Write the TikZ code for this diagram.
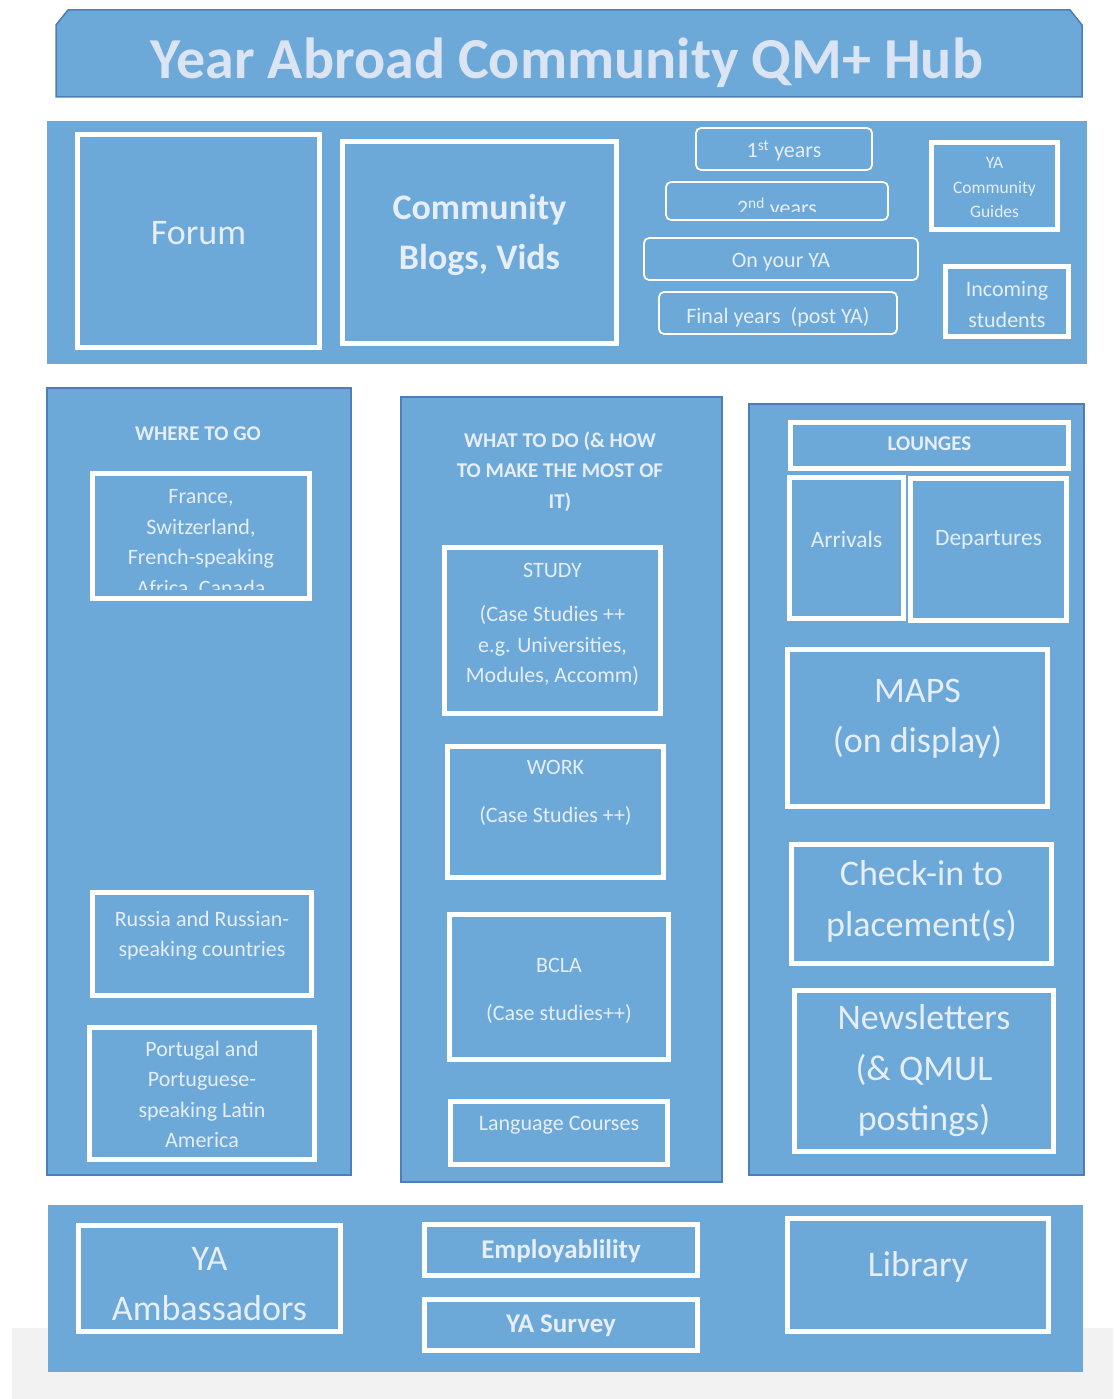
\documentclass[tikz,border=0pt]{standalone}
\usepackage{fontspec}
\setmainfont{Carlito}
\usetikzlibrary{positioning}
\definecolor{hubblue}{RGB}{108,168,216}
\definecolor{hubedge}{RGB}{76,127,186}
\definecolor{hubtext}{RGB}{230,238,249}
\definecolor{hubtitle}{RGB}{218,228,243}
\begin{document}
\begin{tikzpicture}[x=1pt,y=-1pt,
  wh/.style 2 args={minimum width=#1,minimum height=#2},
  panel/.style={fill=hubblue,draw=hubedge,line width=1.6pt,inner sep=0pt},
  flat/.style={panel,draw=none},
  wbox/.style={draw=white,line width=5pt,inner sep=0pt},
  ybox/.style={draw=white,line width=1.8pt,rounded corners=5pt,inner sep=0pt},
  txt/.style={text=hubtext,align=center,inner sep=0pt,font=\fontsize{22}{30.5}\selectfont},
  big/.style={txt,font=\fontsize{36}{50.5}\selectfont},
  head/.style={txt,font=\fontsize{21}{30.5}\selectfont\bfseries},
  clipped/.style 2 args={path picture={
    \clip ([yshift=#1]path picture bounding box.south west) rectangle (path picture bounding box.north east);
    \node[txt,anchor=center] at ([yshift=#2]path picture bounding box.center) {\cliptext};}}]
\useasboundingbox (0,0) rectangle (1113,1399);
\fill[white] (0,0) rectangle (1113,1399);
\fill[black!5] (12,1328) rectangle (1113,1399);

\draw[fill=hubblue,draw=hubedge,line width=1.5pt] (56,97) -- (56,25) -- (68,10) -- (1070,10) -- (1082,25) -- (1082,97) -- cycle;
\node[txt,text=hubtitle,font=\fontsize{58}{60}\selectfont\bfseries] (title) at (567,63) {Year Abroad Community QM+ Hub};

\node[flat,wh={1040pt}{243pt}] (toppanel) at (567,242.5) {};
\node[wbox,wh={242pt}{213pt},label={[big,yshift=8pt]center:Forum}] (forum) at (198.5,241) {};
\node[wbox,wh={274pt}{202pt},label={[big,font=\fontsize{36}{50}\selectfont\bfseries,yshift=8pt]center:{Community\\Blogs, Vids}}] (blogs) at (479.5,242.5) {};
\node[ybox,wh={176pt}{42pt},label={[txt,yshift=-2pt]center:1\textsuperscript{st} years}] (yrone) at (784,149) {};
\def\cliptext{2\textsuperscript{nd} years}
\node[ybox,wh={222pt}{38pt},clipped={9pt}{-7.5pt}] (yrtwo) at (777,201) {};
\node[ybox,wh={274pt}{42pt},label={[txt,yshift=-3pt]center:On your YA}] (onya) at (781,259) {};
\node[ybox,wh={238pt}{42pt},label={[txt,yshift=-4pt]center:Final years~~(post YA)}] (finyr) at (778,313) {};
\node[wbox,wh={126pt}{87pt},label={[txt,font=\fontsize{17.5}{24.5}\selectfont,yshift=-1.5pt]center:{YA\\Community\\Guides}}] (guides) at (994.5,186) {};
\node[wbox,wh={123pt}{70pt},label={[txt,yshift=-3pt]center:{Incoming\\students}}] (incoming) at (1007,301.5) {};

\node[panel,wh={304pt}{787pt}] (wherepanel) at (199,781.5) {};
\node[head] (wherehead) at (198,434) {WHERE TO GO};
\def\cliptext{France,\\Switzerland,\\French-speaking\\Africa, Canada}
\node[wbox,wh={217pt}{125pt},clipped={9.5pt}{-8pt}] (france) at (201,536) {};
\node[wbox,wh={219pt}{103pt},label={[txt,yshift=8.5pt]center:{Russia and Russian-\\speaking countries}}] (russia) at (202,944) {};
\node[wbox,wh={225pt}{132pt},label={[txt,yshift=-1pt]center:{Portugal and\\Portuguese-\\speaking Latin\\America}}] (portugal) at (202,1093.5) {};

\node[panel,wh={321pt}{785pt}] (whatpanel) at (561.5,789.5) {};
\node[head] (whathead) at (560,471.5) {WHAT TO DO (\& HOW\\TO MAKE THE MOST OF\\IT)};
\node[wbox,wh={216pt}{166pt},label={[txt,yshift=6pt]center:{STUDY\\[14pt](Case Studies ++\\e.g. Universities,\\Modules, Accomm)}}] (study) at (552.5,630.5) {};
\node[wbox,wh={216pt}{131pt},label={[txt,yshift=19pt]center:{WORK\\[17pt](Case Studies ++)}}] (work) at (555.5,812) {};
\node[wbox,wh={219pt}{145pt},label={[txt,yshift=-4pt]center:{BCLA\\[17pt](Case studies++)}}] (bcla) at (559,987) {};
\node[wbox,wh={217pt}{63pt},label={[txt,yshift=8pt]center:Language Courses}] (lang) at (559,1133) {};

\node[panel,wh={335pt}{771pt}] (loungepanel) at (916.5,789.5) {};
\node[wbox,wh={278pt}{46pt},label={[head,yshift=1.5pt]center:LOUNGES}] (lounges) at (929.5,445.5) {};
\node[wbox,wh={114pt}{141pt},label={[txt,font=\fontsize{23.5}{30}\selectfont,yshift=9pt]center:Arrivals}] (arrivals) at (846.5,548) {};
\node[wbox,wh={156pt}{142pt},label={[txt,font=\fontsize{23.5}{30}\selectfont,yshift=9.5pt]center:Departures}] (departures) at (988.5,549.5) {};
\node[wbox,wh={260pt}{157pt},label={[big,yshift=9.5pt]center:{MAPS\\(on display)}}] (maps) at (917.5,728) {};
\node[wbox,wh={260pt}{119pt},label={[big,yshift=2.5pt]center:{Check-in to\\placement(s)}}] (checkin) at (921.5,904) {};
\node[wbox,wh={259pt}{161pt},label={[big]center:{Newsletters\\(\& QMUL\\postings)}}] (news) at (924,1071) {};

\node[flat,wh={1035pt}{167pt}] (botpanel) at (565.5,1288.5) {};
\node[wbox,wh={262pt}{106pt},label={[big,yshift=-5.5pt]center:{YA\\Ambassadors}}] (ambass) at (209.5,1278.5) {};
\node[wbox,wh={273pt}{51pt},label={[txt,font=\fontsize{27}{30}\selectfont\bfseries,yshift=-1pt]center:Employablility}] (employ) at (561,1250) {};
\node[wbox,wh={273pt}{51pt},label={[txt,font=\fontsize{27}{30}\selectfont\bfseries,yshift=-1pt]center:YA Survey}] (survey) at (561,1325) {};
\node[wbox,wh={261pt}{113pt},label={[big,yshift=8pt]center:Library}] (library) at (918,1275) {};
\end{tikzpicture}
\end{document}
